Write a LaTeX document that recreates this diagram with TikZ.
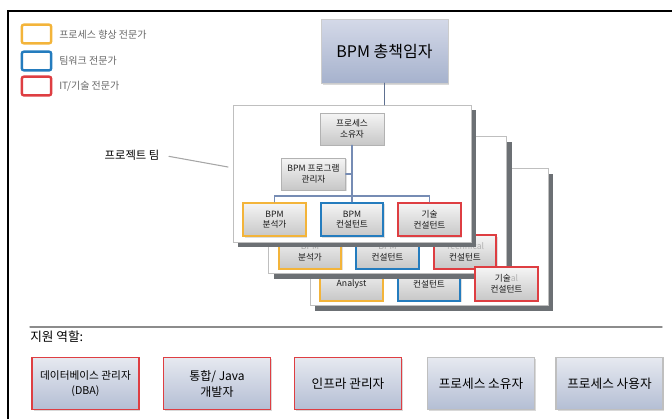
\documentclass[tikz,border=0pt]{standalone}
\usepackage{fontspec}
\setmainfont{Noto Sans CJK KR}
\usepackage{tikz}
\usetikzlibrary{positioning, calc, shadows}
\definecolor{color1}{RGB}{243,180,58}
\definecolor{color2}{RGB}{36,124,190}
\definecolor{color3}{RGB}{222,62,66}
\definecolor{color4}{RGB}{108,112,116}
\definecolor{color5}{RGB}{118,140,180}
\definecolor{color6}{RGB}{230,233,240}
\definecolor{color7}{RGB}{180,190,212}
\definecolor{color8}{RGB}{212,217,232}
\definecolor{color9}{RGB}{166,178,205}

\tikzset{
    legendbox/.style={draw=#1, line width=1.8pt, rounded corners=1.5pt, fill=white,
        minimum width=22pt, minimum height=14pt, inner sep=0pt},
    legendtext/.style={anchor=west, inner sep=0pt, text=black!60,
        font=\fontsize{7.5}{9}\selectfont},
    card/.style={draw=black!25, fill=white, minimum width=178.5pt, minimum height=102.75pt,
        drop shadow={fill=color4, opacity=1, shadow xshift=4pt, shadow yshift=-4pt}},
    graybox/.style={draw=black!30, top color=black!4, bottom color=black!22,
        minimum width=48pt, minimum height=24pt, inner sep=1pt, align=center,
        text=black!90, font=\fontsize{6.5}{8}\selectfont,
        drop shadow={opacity=.25, shadow xshift=1pt, shadow yshift=-1pt}},
    rolebox/.style={graybox, draw=#1, line width=1.5pt, minimum width=47pt, minimum height=25pt},
    supportbox/.style={draw=#1, line width=1.2pt, top color=color6, bottom color=color7,
        minimum width=80pt, minimum height=39pt, inner sep=1pt, align=center,
        font=\fontsize{9.5}{12}\selectfont,
        drop shadow={opacity=.3, shadow xshift=1.2pt, shadow yshift=-1.2pt}},
    conn/.style={draw=color5, line width=0.9pt}
}

\begin{document}
\begin{tikzpicture}[x=0.75pt, y=-0.75pt, line cap=round]
    \useasboundingbox (0,0) rectangle (672,419);
    %\draw [step=10, very thin, lightgray] (0,0) grid (672,419);
    \draw [line width=1pt, line cap=butt] (8,419) -- (8,11) -- (672,11);

    % legend
    \node [legendbox=color1] (legyellow) at (36.5,34) {};
    \node [legendbox=color2] (legblue) at (36.5,61) {};
    \node [legendbox=color3] (legred) at (36.5,86) {};
    \node [legendtext] (legyellowtext) at (59,35) {프로세스 향상 전문가};
    \node [legendtext] (legbluetext) at (59,61) {팀워크 전문가};
    \node [legendtext] (legredtext) at (59,86) {IT/기술 전문가};

    % BPM chief
    \node [draw=black!20, top color=color8, bottom color=color9, minimum width=95pt,
        minimum height=48pt, font=\fontsize{12}{14}\selectfont,
        drop shadow={opacity=.3, shadow xshift=1.2pt, shadow yshift=-1.2pt}]
        (chief) at (384.5,51) {BPM 총책임자};

    % stacked team cards, back to front
    \node [card] (card3) at (429,237) {};
    \node [rolebox=color1] (ana3) at ($(card3)+(-77.5,47)$) {Analyst};
    \node [rolebox=color2] (con3) at ($(card3)+(0,47)$) {컨설턴트};

    \node [card] (card2) at (387.5,205) {};
    \node [rolebox=color1] (ana2) at ($(card2)+(-77.5,47)$) {{\color{black!35}BPM}\\분석가};
    \node [rolebox=color2] (con2) at ($(card2)+(0,47)$) {{\color{black!35}BPM}\\컨설턴트};
    \node [rolebox=color3] (tech2) at ($(card2)+(77.5,47)$) {{\color{black!30}Technical}\\컨설턴트};
    \node [rolebox=color3] (tech3) at ($(card3)+(77.5,47)$) {기술{\color{black!30}al}\\컨설턴트};

    \node [card] (card1) at (352,173.5) {};
    \node [graybox] (owner) at ($(card1)+(0,-44.5)$) {프로세스\\소유자};
    \node [graybox] (mgr) at ($(card1)+(-38.5,0.5)$) {BPM 프로그램\\관리자};
    \node [rolebox=color1] (ana1) at ($(card1)+(-77.5,46)$) {BPM\\분석가};
    \node [rolebox=color2] (con1) at ($(card1)+(0,46)$) {BPM\\컨설턴트};
    \node [rolebox=color3] (tech1) at ($(card1)+(77.5,46)$) {기술\\컨설턴트};

    \coordinate (bus) at ($(card1)+(0,22.5)$);
    \draw [conn] (owner) -- (con1);
    \draw [conn] (ana1.north) |- (bus) -| (tech1.north);
    \draw [conn] (mgr.east) -- (mgr.east -| owner.south);
    \draw [conn, draw=color5!80!black] (chief.south) -- (chief.south |- card1.north);

    % project team label
    \node [font=\fontsize{8.5}{10}\selectfont, inner sep=0pt] (teamlabel) at (132,155) {프로젝트 팀};
    \coordinate (teamtip) at (228,167);
    \draw [black!35, line width=0.8pt] ([xshift=7pt, yshift=-1pt]teamlabel.east) -- (teamtip);

    % support roles
    \draw [black!45, line width=1pt] (30,327) -- (662,327);
    \node [anchor=west, inner sep=0pt, font=\fontsize{9.5}{11}\selectfont] (supportlabel) at (30,337) {지원 역할:};

    \node [supportbox=color3, font=\fontsize{8}{11}\selectfont] (dba) at (85.5,383.5) {데이터베이스 관리자\\(DBA)};
    \node [supportbox=color3, font=\fontsize{9}{12}\selectfont] (javadev) at (217,383.5) {통합/ Java\\개발자};
    \node [supportbox=color3] (infra) at (348,383.5) {인프라 관리자};
    \node [supportbox=black!25] (procowner) at (481,383.5) {프로세스 소유자};
    \node [supportbox=black!25] (procuser) at (609.5,383.5) {프로세스 사용자};
\end{tikzpicture}
\end{document}
